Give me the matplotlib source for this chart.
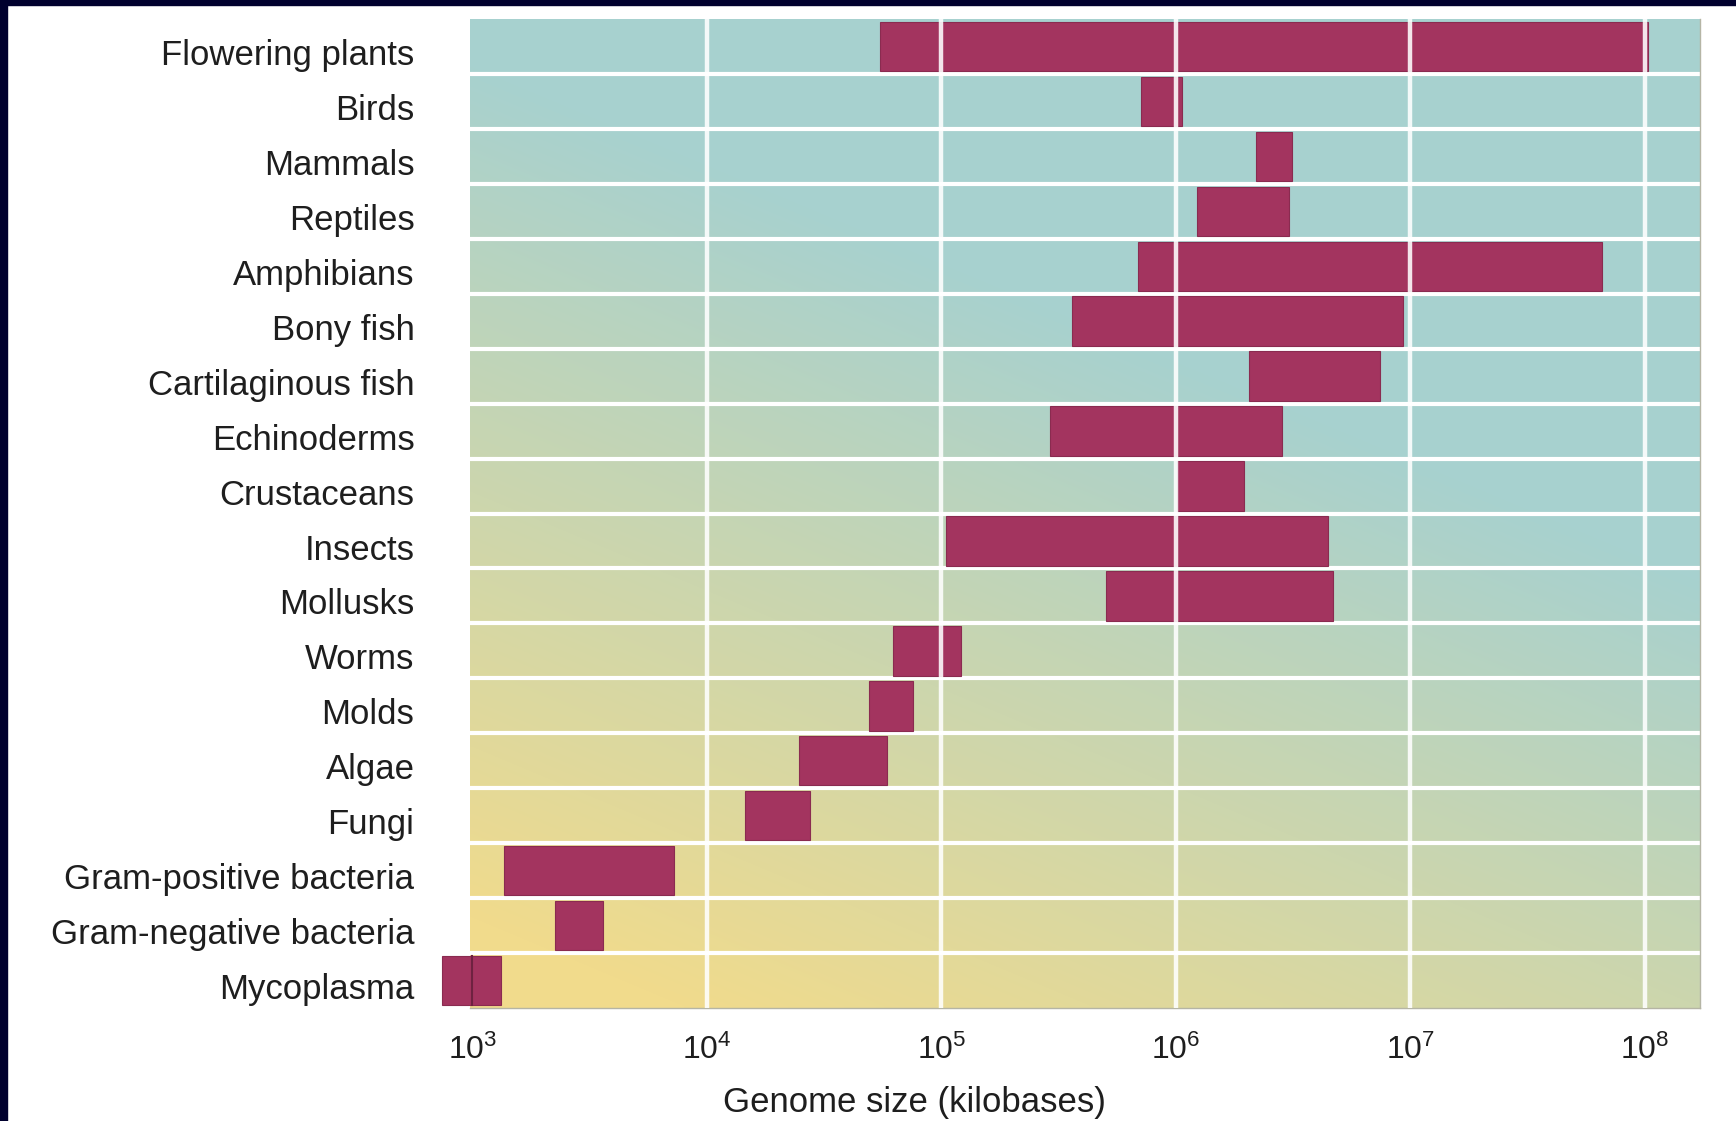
import matplotlib
matplotlib.use('Agg')
import matplotlib.pyplot as plt
import matplotlib.transforms as mtransforms
import numpy as np
from matplotlib.colors import LinearSegmentedColormap
from matplotlib.patches import Rectangle
from matplotlib.ticker import NullLocator

# genome size ranges in kilobases (top row first)
groups = ['Flowering plants', 'Birds', 'Mammals', 'Reptiles', 'Amphibians',
          'Bony fish', 'Cartilaginous fish', 'Echinoderms', 'Crustaceans',
          'Insects', 'Mollusks', 'Worms', 'Molds', 'Algae', 'Fungi',
          'Gram-positive bacteria', 'Gram-negative bacteria', 'Mycoplasma']
low_kb = [5.5e4, 7.1e5, 2.2e6, 1.23e6, 6.9e5,
          3.6e5, 2.06e6, 2.9e5, 1.01e6,
          1.05e5, 5.05e5, 6.25e4, 4.9e4, 2.48e4, 1.46e4,
          1.37e3, 2.26e3, 7.45e2]
high_kb = [1.03e8, 1.06e6, 3.14e6, 3.04e6, 6.55e7,
           9.3e6, 7.4e6, 2.85e6, 1.95e6,
           4.45e6, 4.7e6, 1.21e5, 7.6e4, 5.85e4, 2.76e4,
           7.24e3, 3.61e3, 1.33e3]
decades = [1e3, 1e4, 1e5, 1e6, 1e7, 1e8]

plt.rcParams['font.family'] = ['Liberation Sans', 'DejaVu Sans']
txt = '#1e1e1e'
bar_col = '#a3345f'

W, H = 1736, 1121
fig = plt.figure(figsize=(W / 100, H / 100), dpi=100)
fig.patch.set_facecolor('white')
ax = fig.add_axes([470 / W, 1 - 1008 / H, 1230 / W, 989 / H])

n = len(groups)
ypos = np.arange(n)
bar_h = 0.9

ax.set_xscale('log')
ax.set_xlim(10 ** 2.99, 10 ** 8.236)
ax.set_ylim(n - 0.5, -0.5)

# yellow -> teal background, diagonal
cmap = LinearSegmentedColormap.from_list('bg', ['#f1db8c', '#a7d1cf'])
gx, gy = np.meshgrid(np.linspace(0, 1, 400), np.linspace(0, 1, 300))
t = np.clip(0.6 * gx + 1.15 * gy - 0.1, 0, 1)
ax.imshow(t, cmap=cmap, vmin=0, vmax=1, origin='lower', extent=[0, 1, 0, 1],
          transform=ax.transAxes, aspect='auto', zorder=0, interpolation='bilinear')

for i in range(n - 1):
    ax.axhline(i + 0.5, color='white', lw=3, zorder=1)

lows = np.array(low_kb)
highs = np.array(high_kb)
ax.barh(ypos, highs - lows, left=lows, height=bar_h, color=bar_col,
        edgecolor='#8a2b50', linewidth=0.8, zorder=2, clip_on=False)

for d in decades[1:]:
    ax.axvline(d, color='white', lw=3.2, alpha=0.88, zorder=3)
# dark mark where the 10^3 line runs through the lowest bar
ax.plot([decades[0], decades[0]], [ypos[-1] - bar_h / 2, ypos[-1] + bar_h / 2],
        color='#6e2240', lw=1.5, zorder=3, clip_on=False)

ax.set_xticks(decades)
ax.xaxis.set_minor_locator(NullLocator())
ax.tick_params(axis='x', length=0, pad=19, labelsize=23, labelcolor=txt)
ax.set_yticks(ypos)
ax.set_yticklabels(groups)
ax.tick_params(axis='y', length=0, pad=40, labelsize=25, labelcolor=txt)
down = mtransforms.ScaledTranslation(0, -4 / 72, fig.dpi_scale_trans)
for lbl in ax.get_yticklabels():
    lbl.set_transform(lbl.get_transform() + down)

ax.set_xlabel('Genome size (kilobases)', fontsize=25, color=txt)
ax.xaxis.set_label_coords(0.361, -0.079)

for s in ['top', 'left']:
    ax.spines[s].set_visible(False)
for s in ['bottom', 'right']:
    ax.spines[s].set_color('#b5b5a5')
    ax.spines[s].set_linewidth(1)

# dark slide border on top and left
fig.patches.append(Rectangle((0, 1 - 5 / H), 1, 5 / H, transform=fig.transFigure,
                             color='#00002e', zorder=10))
fig.patches.append(Rectangle((0, 0), 7 / W, 1, transform=fig.transFigure,
                             color='#00002e', zorder=10))

fig.savefig('out.png', dpi=100)
